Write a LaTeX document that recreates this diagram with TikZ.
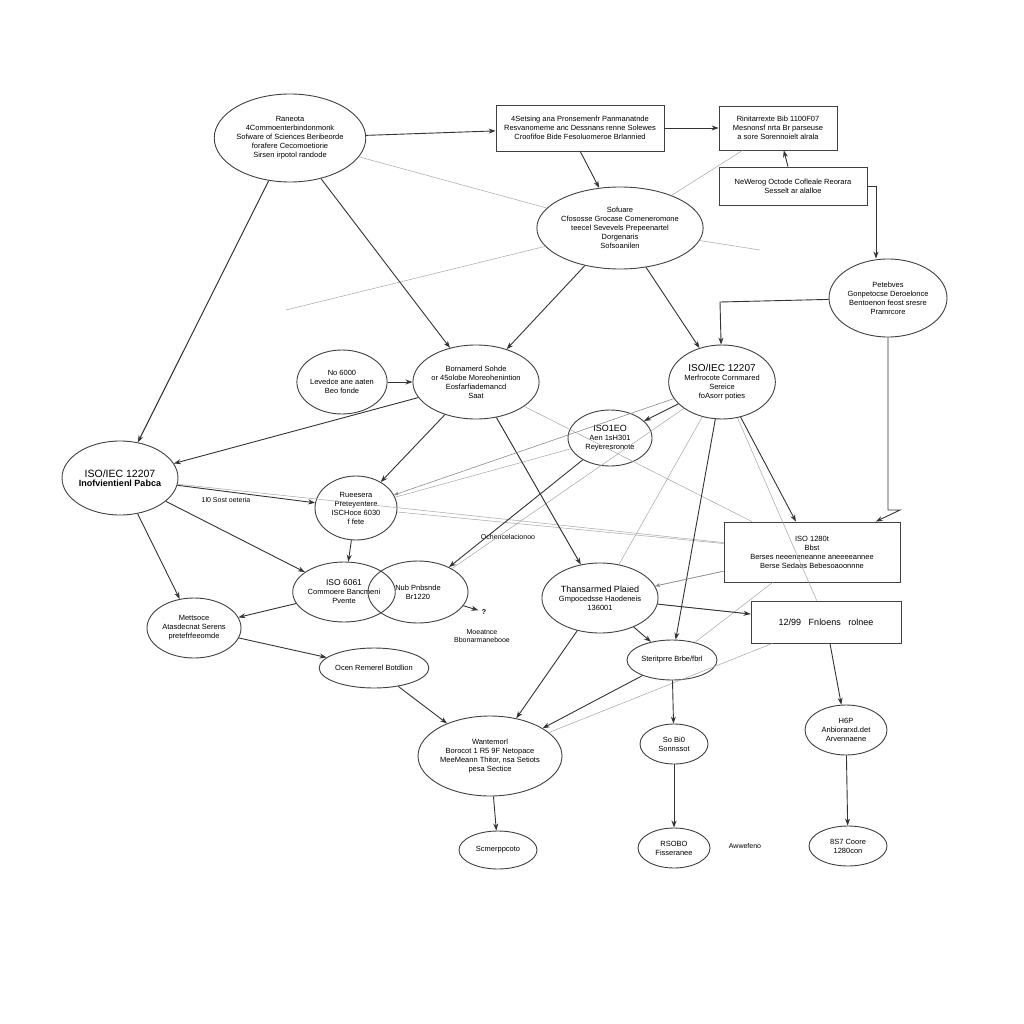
\documentclass[tikz,border=0pt]{standalone}
\usepackage{fontspec}
\setmainfont{Liberation Sans}
\usetikzlibrary{arrows.meta,shapes.geometric,calc}
\begin{document}
\begin{tikzpicture}[x=1pt,y=-1pt,
 el/.style={draw=black!75,line width=0.9pt,ellipse,inner sep=0pt,align=center,font=\fontsize{7.5}{9}\selectfont},
 bx/.style={draw=black!75,line width=0.8pt,rectangle,inner sep=0pt,align=center,font=\fontsize{7.5}{9}\selectfont},
 ar/.style={draw=black!80,line width=0.9pt,-{Stealth[length=7pt,width=5pt]}},
 gr/.style={draw=black!35,line width=0.5pt},
 ga/.style={draw=black!45,line width=0.6pt,-{Stealth[length=5pt,width=4pt]}},
 tx/.style={font=\fontsize{7}{8.5}\selectfont,align=center}]
\useasboundingbox (0,0) rectangle (1024,1024);
\fill[white] (0,0) rectangle (1024,1024);
\tikzset{E/.style n args={2}{el,minimum width=#1,minimum height=#2}, R/.style n args={2}{bx,minimum width=#1,minimum height=#2}}
\node[E={150}{88}] (A) at (290,138) {Raneota\\4Commoenterbindonmonk\\Sofware of Sciences Beribeorde\\forafere Cecomoetiorie\\Sirsen irpotol randode};
\node[R={168}{46}] (B) at (580,128) {4Setsing ana Pronsemenfr Panmanatnde\\Resvanomeme anc Dessnans renne Solewes\\Croofifoe Bide Fesoluomeroe Brlannied};
\node[R={118}{44}] (C) at (778,128) {Rinitarrexte Bib 1100F07\\Mesnonsf nrta Br parseuse\\a sore Sorennoielt alrala};
\node[R={148}{38}] (D) at (793,186) {NeWerog Octode Cofleale Reorara\\Sesselt ar alalloe};
\node[E={136}{82}] (E) at (620,228) {Sofuare\\Cfososse Grocase Comeneromone\\teecel Sevevels Prepeenartel\\Dorgenaris\\Sofsoanilen};
\node[E={118}{78}] (F) at (888,298) {Petebves\\Gonpetocse Deroelonce\\Bentoenon feost sresre\\Pramrcore};
\node[E={86}{64}] (G) at (342,382) {No 6000\\Levedce ane aaten\\Beo fonde};
\node[E={110}{74}] (H) at (476,382) {Bornamerd Sohde\\or 45olobe Moreohenintion\\Eosfarfiademancd\\Saat};
\node[E={104}{74}] (I) at (722,382) {\fontsize{10}{11}\selectfont ISO/IEC 12207\\Merfrocote Cornmared\\Sereice\\foAsorr poties};
\node[E={84}{56}] (J) at (610,438) {\fontsize{9}{10}\selectfont ISO1EO\\Aen 1sH301\\Reyeresronote};
\node[E={96}{74}] (K) at (120,478) {\fontsize{10.5}{12}\selectfont ISO/IEC 12207\\\fontsize{9}{11}\selectfont\bfseries Inofvientienl Pabca};
\node[E={82}{64}] (L) at (356,508) {Rueesera\\Preteyentere\\ISCHoce 6030\\f fete};
\node[R={176}{60}] (M) at (812,552) {ISO 1280t\\Bbst\\Berses neeeneneanne aneeeeannee\\Berse Sedaos Bebesoaoonnne};
\node[E={100}{62}] (O) at (418,592) {Nub Pnbsnde\\Br1220};
\node[E={80}{60}] (N) at (344,592) {\fontsize{8.5}{10}\selectfont ISO 6061\\Commoere Bancmeni\\Pvente};
\node[E={116}{70}] (P) at (600,598) {\fontsize{9}{10}\selectfont Thansarmed Plaied\\Gmpocedsse Haodeneis\\136001};
\node[R={150}{42}] (Q) at (826,622) {\fontsize{9}{10}\selectfont 12/99 \ \ Fnloens \ \ rolnee};
\node[E={94}{60}] (R) at (194,628) {Mettsoce\\Atasdecnat Serens\\pretefrfeeomde};
\node[E={100}{40}] (S) at (374,668) {Ocen Remerel Botdlion};
\node[E={90}{40}] (T) at (672,660) {Steritprre Brbe/fbrl};
\node[E={82}{50}] (U) at (846,730) {H6P\\Anbiorarxd.det\\Arvennaene};
\node[E={144}{80}] (V) at (490,756) {Wantemorl\\Borocot 1 R5 9F Netopace\\MeeMeann Thitor, nsa Setiots\\pesa Sectice};
\node[E={68}{40}] (W) at (674,744) {So Bi0\\Sonnssot};
\node[E={78}{38}] (X) at (498,850) {Scmerppcoto};
\node[E={72}{40}] (Y) at (674,848) {RSOBO\\Fisseranee};
\node[E={78}{40}] (Z) at (848,846) {8S7 Coore\\1280con};
\node[tx] (t1) at (745,846) {Awwefeno};
\node[tx] (t2) at (226,500) {1l0 Sost oeteria};
\node[tx] (t3) at (508,537) {Ochencelacionoo};
\node[tx] (t4) at (482,636) {Moeatnce\\Bbonarmanebooe};
\node[tx] (t5) at (484,612) {\bfseries ?};
\coordinate (c1) at (900,510);
\coordinate (c2) at (720,302);
\coordinate (c3) at (286,310);
\coordinate (c4) at (760,250);
\draw[gr] (A) -- (E); \draw[gr] (E) -- (C); \draw[gr] (c3) -- (E);
\draw[gr] (E) -- (c4); \draw[gr] (H) -- (M); \draw[gr] (H) -- (P);
\draw[gr] (L) -- (M); \draw[gr] (J) -- (L); \draw[gr] (K) -- (M);
\draw[gr] (P) -- (Q); \draw[gr] (V) -- (Q); \draw[gr] (P) -- (M);
\draw[gr] (I) -- (P); \draw[gr] (O) -- (I); \draw[gr] (T) -- (M);
\draw[gr] (A) -- (K); \draw[gr] (I) -- (Q);
\draw[ar] (A) -- (B); \draw[ar] (B) -- (C); \draw[ar] (D) -- (C);
\draw[ar] (580,151) -- (E); \draw[ar] (A) -- (H); \draw[ar] (A) -- (K);
\draw[ar] (D) -| ($(F.north)+(-12,0)$);
\draw[ar] (F) -- (c2) -- (I);
\draw[ar] (F.south) |- (c1) -- (M);
\draw[ar] (G) -- (H); \draw[ar] (H) -- (K); \draw[ar] (K) -- (L);
\draw[ar] (K) -- (N); \draw[ar] (K) -- (R); \draw[ar] (H) -- (L);
\draw[ar] (H) -- (P); \draw[ar] (E) -- (H); \draw[ar] (E) -- (I);
\draw[ar] (I) -- (J); \draw[ar] (J) -- (O); \draw[ar] (I) -- (M);
\draw[ar] (I) -- (T); \draw[ar] (P) -- (T); \draw[ar] (P) -- (V);
\draw[ar] (P) -- (Q); \draw[ar] (L) -- (N); \draw[ar] (N) -- (R);
\draw[ar] (R) -- (S); \draw[ar] (S) -- (V); \draw[ar] (T) -- (W);
\draw[ar] (W) -- (Y); \draw[ar] (V) -- (X); \draw[ar] (Q) -- (U);
\draw[ar] (U) -- (Z); \draw[ar] (T) -- (V); \draw[ar] (O) -- (t5);
\draw[ga] (I) -- (L); \draw[ga] (M) -- (P);
\end{tikzpicture}
\end{document}
